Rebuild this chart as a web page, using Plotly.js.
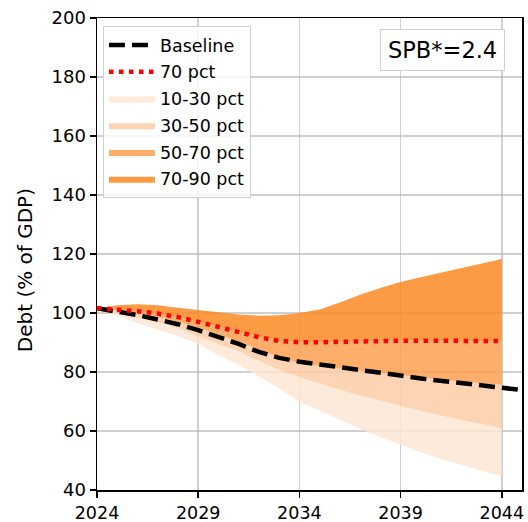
<!DOCTYPE html>
<html>
<head>
<meta charset="utf-8">
<script src="https://cdn.plot.ly/plotly-3.0.1.min.js"></script>
<style>html,body{margin:0;padding:0;background:#fff}#chart{width:528px;height:522px}</style>
</head>
<body>
<div id="chart"></div>
<script>
const years = [2024,2025,2026,2027,2028,2029,2030,2031,2032,2033,2034,2035,2036,2037,2038,2039,2040,2041,2042,2043,2044];
const baselineYears = [2024,2025,2026,2027,2028,2029,2030,2031,2032,2033,2034,2035,2036,2037,2038,2039,2040,2041,2042,2043,2044,2045];
const baseline = [101.6,100.5,99.3,97.8,96.2,94.2,92.0,89.5,86.8,84.8,83.5,82.6,81.7,80.9,79.8,78.8,77.8,77.0,76.2,75.5,74.8,73.9];
const p10 = [101.6,99.0,96.5,94.4,92.2,89.6,85.8,82.5,78.5,74.5,70.0,66.9,63.8,60.8,58.0,55.3,52.8,50.5,48.5,46.5,44.7];
const p30 = [101.6,100.0,98.5,96.8,94.8,92.0,89.5,87.0,83.8,80.8,78.2,76.0,74.0,72.0,70.2,68.5,66.8,65.2,63.7,62.3,60.9];
const p50 = [101.6,100.9,100.0,98.7,97.0,95.0,92.8,90.3,87.6,85.0,83.0,82.0,81.2,80.4,79.6,78.9,78.2,77.5,76.8,76.2,75.7];
const p70 = [101.6,101.2,100.6,99.8,98.6,97.0,95.3,93.6,91.8,90.5,90.1,90.1,90.3,90.5,90.6,90.6,90.6,90.6,90.5,90.5,90.5];
const p90 = [101.6,102.6,103.0,102.6,101.8,101.0,100.2,99.5,99.1,99.2,100.0,101.2,103.6,106.2,108.5,110.5,112.1,113.7,115.2,116.8,118.3];
const bandNames = ['10-30 pct','30-50 pct','50-70 pct','70-90 pct'];
const bandColors = ['rgba(254,230,211,0.85)','rgba(253,204,167,0.85)','rgba(253,160,81,0.85)','rgba(253,136,35,0.85)'];
const spbText = 'SPB*=2.4';
const yTitle = 'Debt (% of GDP)';

const font = 'DejaVu Sans, sans-serif';
const bounds = [p10,p30,p50,p70,p90];
const traces = [];
traces.push({x: years, y: p10, type:'scatter', mode:'lines', line:{width:0}, showlegend:false, hoverinfo:'skip'});
for (let i=0;i<4;i++){
  traces.push({x: years, y: bounds[i+1], type:'scatter', mode:'lines', fill:'tonexty',
    fillcolor: bandColors[i], line:{width:0, color: bandColors[i]}, name: bandNames[i],
    legendgroup:'g'+(i+2), legendrank: 3+i});
}
traces.push({x: baselineYears, y: baseline, type:'scatter', mode:'lines', name:'Baseline',
  line:{color:'#000', width:4.5, dash:'16px,7px'}, legendgroup:'g0', legendrank:1});
traces.push({x: years, y: p70, type:'scatter', mode:'lines', name:'70 pct',
  line:{color:'#ff0000', width:4.5, dash:'4.5px,5.5px'}, legendgroup:'g1', legendrank:2});

const layout = {
  width:528, height:522,
  margin:{l:97, r:6, t:18, b:32},
  paper_bgcolor:'#fff', plot_bgcolor:'#fff',
  font:{family:font, size:18, color:'#000'},
  xaxis:{range:[2024,2045], tickvals:[2024,2029,2034,2039,2044], showgrid:true, gridcolor:'rgba(176,176,176,0.6)', gridwidth:1.5,
    showline:true, linecolor:'#000', linewidth:1.5, mirror:true, ticks:'outside', ticklen:6, tickwidth:1.5, tickcolor:'#000',
    zeroline:false, tickfont:{family:font, size:17.5}, layer:'above traces'},
  yaxis:{range:[40,200], tickvals:[40,60,80,100,120,140,160,180,200], showgrid:true, gridcolor:'rgba(176,176,176,0.6)', gridwidth:1.5,
    showline:true, linecolor:'#000', linewidth:1.5, mirror:true, ticks:'outside', ticklen:6, tickwidth:1.5, tickcolor:'#000',
    zeroline:false, tickfont:{family:font, size:18}, layer:'above traces'},
  legend:{x:0.014, y:0.983, xanchor:'left', yanchor:'top', bgcolor:'rgba(255,255,255,0.85)', bordercolor:'#d0d0d0', borderwidth:1,
    font:{family:font, size:17.5}, traceorder:'grouped', tracegroupgap:1, itemwidth:46},
  annotations:[
    {xref:'paper', yref:'paper', x:0.812, y:0.932, xanchor:'center', yanchor:'middle', text:spbText, showarrow:false,
     font:{family:font, size:22.5}, bordercolor:'#d0d0d0', borderwidth:1, borderpad:7, bgcolor:'#fff'},
    {xref:'paper', yref:'paper', x:-0.169, y:0.466, xanchor:'center', yanchor:'middle', text:yTitle, showarrow:false,
     textangle:-90, font:{family:font, size:20}}
  ],
  showlegend:true
};
Plotly.newPlot('chart', traces, layout, {displayModeBar:false, staticPlot:true});
</script>
</body>
</html>
